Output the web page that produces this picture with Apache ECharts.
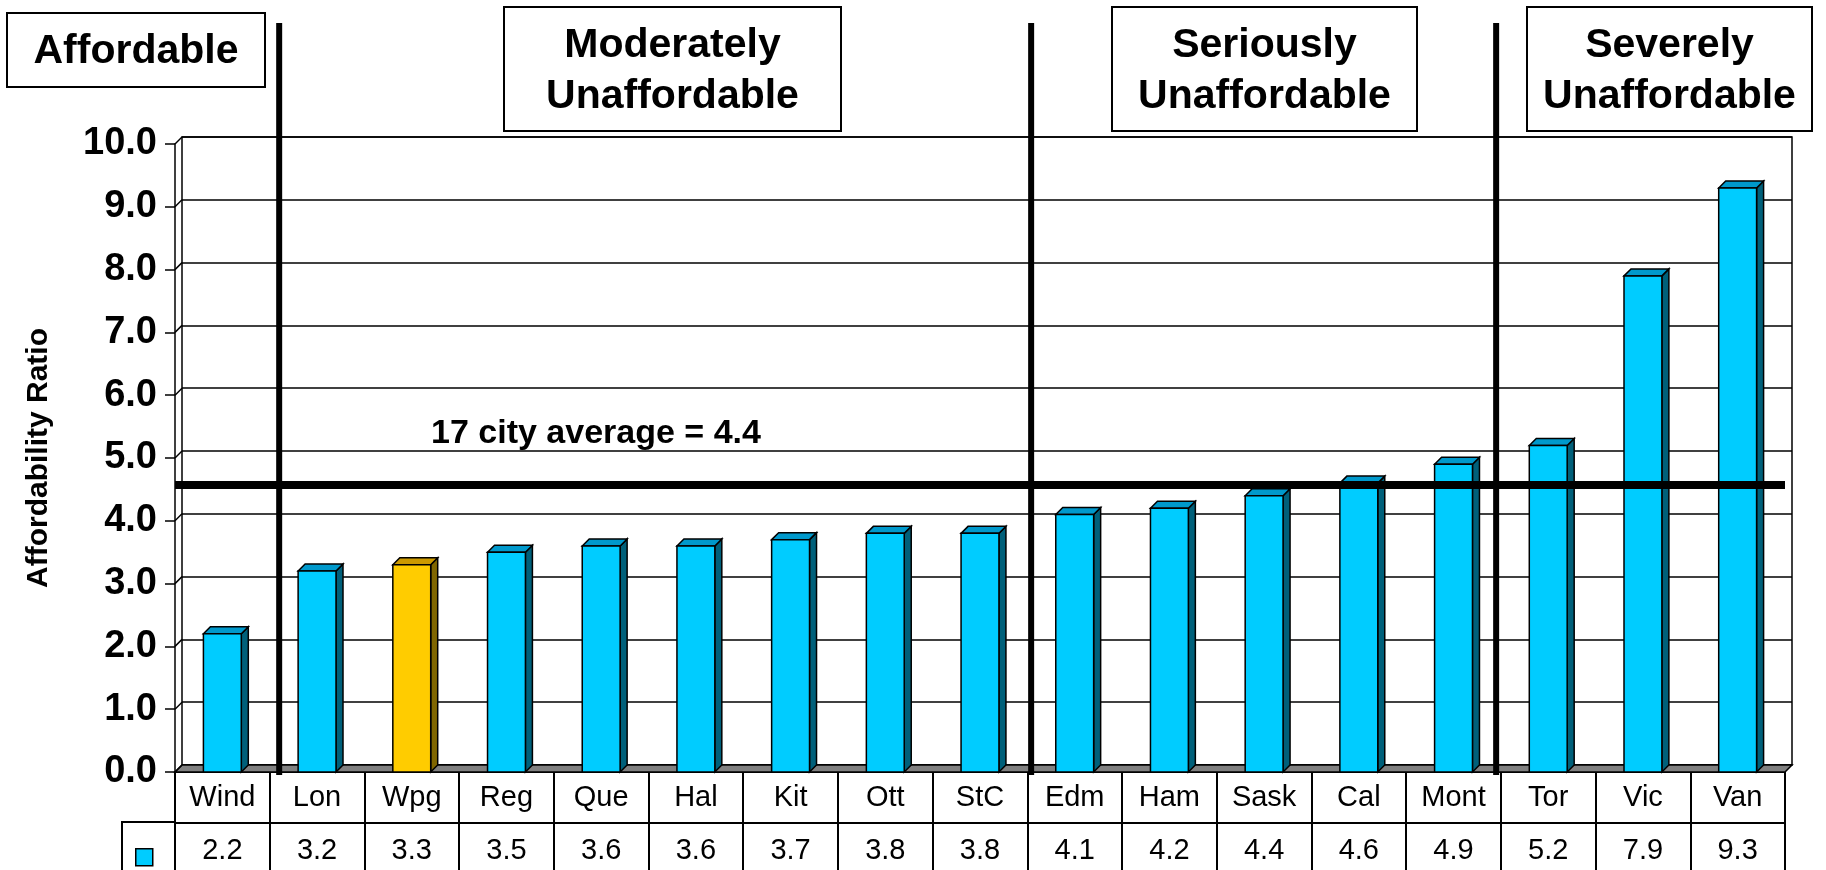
<!DOCTYPE html>
<html>
<head>
<meta charset="utf-8">
<script src="https://cdn.jsdelivr.net/npm/echarts/dist/echarts.min.js"></script>
<style>html,body{margin:0;padding:0;background:#fff}#c{width:1826px;height:870px}</style>
</head>
<body>
<div id="c"></div>
<script>
// ---------- data ----------
const cities = ['Wind','Lon','Wpg','Reg','Que','Hal','Kit','Ott','StC','Edm','Ham','Sask','Cal','Mont','Tor','Vic','Van'];
const ratios = [2.2,3.2,3.3,3.5,3.6,3.6,3.7,3.8,3.8,4.1,4.2,4.4,4.6,4.9,5.2,7.9,9.3];
const highlighted = ['Wpg'];
const yTicks = [0,1,2,3,4,5,6,7,8,9,10];
const cityCount = 17;
const cityAverage = 4.4;
const averageLineLevel = 4.58;           // where the thick average rule is drawn
const zoneNames = ['Affordable', 'Moderately\nUnaffordable', 'Seriously\nUnaffordable', 'Severely\nUnaffordable'];
const zoneDividers = [0.6, 8.54, 13.45];   // in category-index units
const seriesName = 'Affordability Ratio';

// ---------- style / layout ----------
const FONT = '"Liberation Sans", Arial, sans-serif';
const DX = 7, DY = 7;
const COLORS = {
  normal: {front:'#00CCFF', side:'#00607A', top:'#0099CC'},
  high:   {front:'#FFCC00', side:'#806600', top:'#CC9900'}
};
const zoneBoxes = [
  {x:7, y:13, w:258, h:74},
  {x:504, y:7, w:337, h:124},
  {x:1112, y:7, w:305, h:124},
  {x:1527, y:7, w:285, h:124}
];

const chart = echarts.init(document.getElementById('c'), null, {renderer:'canvas'});

function renderBar(params, api) {
  const i = api.value(0), v = api.value(1);
  const top = api.coord([i, v]), base = api.coord([i, 0]);
  const band = api.size([1, 0])[0];
  const w = band * 0.4;
  const x = top[0] - w / 2;
  const c = highlighted.indexOf(cities[i]) >= 0 ? COLORS.high : COLORS.normal;
  const st = (fill) => ({fill: fill, stroke: '#000', lineWidth: 1.5});
  return {type: 'group', children: [
    {type: 'polygon', shape: {points: [[x + w, top[1]], [x + w + DX, top[1] - DY], [x + w + DX, base[1] - DY], [x + w, base[1]]]}, style: st(c.side)},
    {type: 'polygon', shape: {points: [[x, top[1]], [x + DX, top[1] - DY], [x + w + DX, top[1] - DY], [x + w, top[1]]]}, style: st(c.top)},
    {type: 'rect', shape: {x: x, y: top[1], width: w, height: base[1] - top[1]}, style: st(c.front)}
  ]};
}

function renderFrame(params, api) {
  const cs = params.coordSys;
  const v = api.value(1);
  const p = api.coord([0, v]);
  const x0 = cs.x;
  const children = [
    {type: 'line', shape: {x1: x0, y1: p[1], x2: x0 + DX, y2: p[1] - DY}, style: {stroke: '#000', lineWidth: 1.5}}
  ];
  if (params.dataIndex === 0) {
    const yb = cs.y + cs.height, xr = cs.x + cs.width;
    children.unshift({type: 'polygon', shape: {points: [[x0, yb], [xr, yb], [xr + DX, yb - DY], [x0 + DX, yb - DY]]},
      style: {fill: '#808080', stroke: '#000', lineWidth: 1.5}});
  }
  return {type: 'group', children: children};
}

function renderDivider(params, api) {
  const d = zoneDividers[params.dataIndex];
  const a = Math.floor(d);
  const c0 = api.coord([a, 0]), c1 = api.coord([a + 1, 0]);
  const x = c0[0] + (d - a) * (c1[0] - c0[0]);
  return {type: 'line', shape: {x1: x, y1: 23, x2: x, y2: c0[1] + 3}, style: {stroke: '#000', lineWidth: 6}};
}

const graphics = [];
zoneNames.forEach((name, k) => {
  const b = zoneBoxes[k];
  graphics.push({type: 'rect', shape: {x: b.x, y: b.y, width: b.w, height: b.h}, style: {fill: '#fff', stroke: '#000', lineWidth: 2}, z: 10});
  graphics.push({type: 'text', x: b.x + b.w / 2, y: b.y + b.h / 2 + 2, z: 11,
    style: {text: name, fill: '#000', font: 'bold 41px ' + FONT, align: 'center', verticalAlign: 'middle', lineHeight: 51}});
});
graphics.push({type: 'text', x: 596, y: 434, z: 11,
  style: {text: cityCount + ' city average = ' + cityAverage.toFixed(1), fill: '#000', font: 'bold 34px ' + FONT, align: 'center', verticalAlign: 'middle'}});
// left cell of value row
graphics.push({type: 'line', shape: {x1: 122, y1: 822, x2: 176, y2: 822}, style: {stroke: '#000', lineWidth: 2}, z: 5});
graphics.push({type: 'line', shape: {x1: 122, y1: 821, x2: 122, y2: 872}, style: {stroke: '#000', lineWidth: 2}, z: 5});

const option = {
  backgroundColor: '#fff',
  animation: false,
  textStyle: {fontFamily: FONT},
  grid: [
    {left: 175, top: 144, width: 1610, height: 628, outerBoundsMode: 'none', containLabel: false},
    {left: 182, top: 137, width: 1610, height: 628, show: true, borderColor: '#000', borderWidth: 1.5, backgroundColor: 'transparent', outerBoundsMode: 'none', containLabel: false}
  ],
  legend: {
    show: true, left: 130, top: 843, itemWidth: 17, itemHeight: 17, icon: 'rect', selectedMode: false,
    formatter: () => '', itemGap: 0,
    data: [{name: seriesName, itemStyle: {color: COLORS.normal.front, borderColor: '#000', borderWidth: 1.5}}]
  },
  xAxis: [
    {type: 'category', gridIndex: 0, data: cities, position: 'bottom',
      axisLine: {show: true, lineStyle: {color: '#000', width: 2}},
      axisTick: {show: true, length: 51, interval: 0, lineStyle: {color: '#000', width: 2}},
      axisLabel: {interval: 0, margin: 11, color: '#000', fontSize: 29, fontFamily: FONT},
      splitLine: {show: false}},
    {type: 'category', gridIndex: 0, data: ratios.map(v => v.toFixed(1)), position: 'bottom', offset: 51,
      axisLine: {show: true, lineStyle: {color: '#000', width: 2}},
      axisTick: {show: true, length: 52, interval: 0, lineStyle: {color: '#000', width: 2}},
      axisLabel: {interval: 0, margin: 13, color: '#000', fontSize: 29, fontFamily: FONT},
      splitLine: {show: false}},
    {type: 'category', gridIndex: 1, data: cities, show: false}
  ],
  yAxis: [
    {type: 'value', gridIndex: 0, min: 0, max: 10, interval: 1,
      name: 'Affordability Ratio', nameLocation: 'middle', nameRotate: 90, nameGap: 121,
      nameTextStyle: {fontSize: 30, fontWeight: 'bold', color: '#000', fontFamily: FONT},
      axisLine: {show: true, lineStyle: {color: '#000', width: 1.5}},
      axisTick: {show: true, length: 10, lineStyle: {color: '#000', width: 1.5}},
      axisLabel: {formatter: v => v.toFixed(1), margin: 18, color: '#000', fontSize: 38, fontWeight: 'bold', fontFamily: FONT},
      splitLine: {show: false}},
    {type: 'value', gridIndex: 1, min: 0, max: 10, interval: 1,
      axisLine: {show: false}, axisTick: {show: false}, axisLabel: {show: false},
      splitLine: {show: true, lineStyle: {color: '#000', width: 1.5}}}
  ],
  series: [
    {type: 'custom', name: 'frame', xAxisIndex: 0, yAxisIndex: 0, clip: false, z: 2, silent: true,
      renderItem: renderFrame, data: yTicks.map(v => [0, v]), encode: {x: 0, y: 1}},
    {type: 'custom', name: seriesName, xAxisIndex: 0, yAxisIndex: 0, clip: false, z: 3,
      itemStyle: {color: COLORS.normal.front},
      renderItem: renderBar, data: ratios.map((v, i) => [i, v]), encode: {x: 0, y: 1},
      markLine: {silent: true, symbol: 'none', z: 4, label: {show: false},
        lineStyle: {color: '#000', width: 8, type: 'solid'},
        data: [{yAxis: averageLineLevel}]}},
    {type: 'custom', name: 'dividers', xAxisIndex: 0, yAxisIndex: 0, clip: false, z: 6, silent: true,
      renderItem: renderDivider, data: zoneDividers.map(d => [Math.floor(d), 0]), encode: {x: 0, y: 1}}
  ],
  graphic: graphics
};
chart.setOption(option);
</script>
</body>
</html>
